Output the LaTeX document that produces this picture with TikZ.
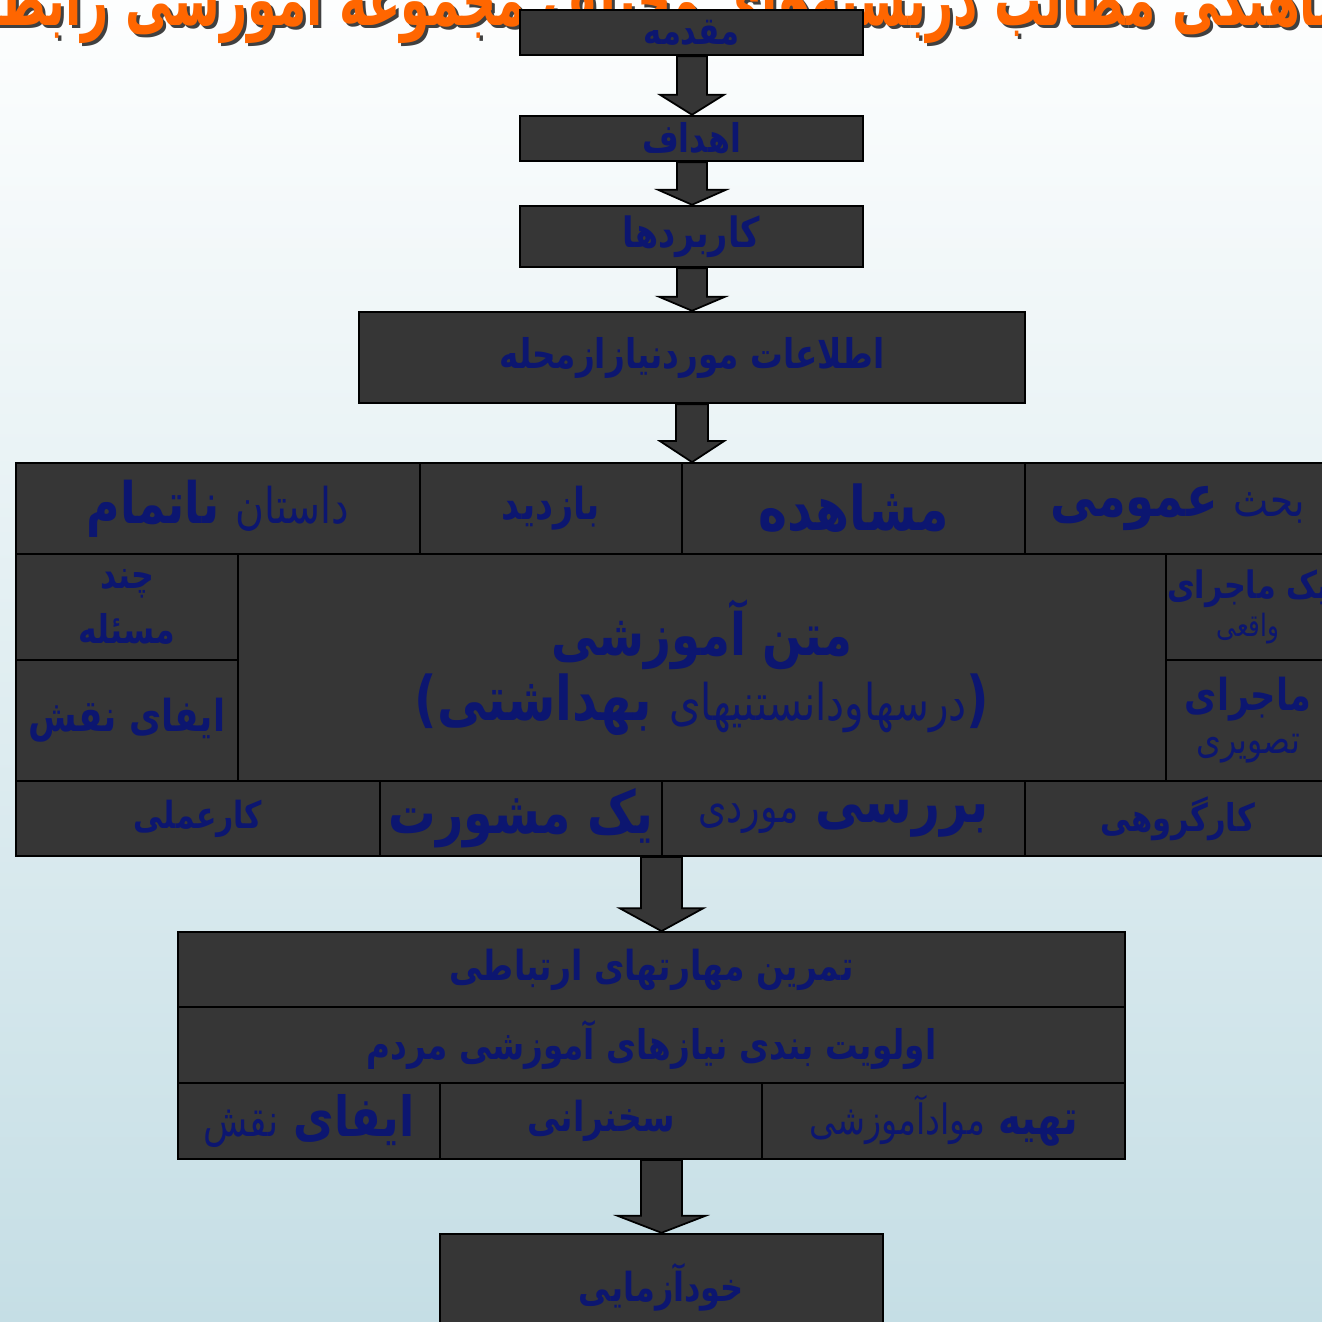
\documentclass[tikz,border=0pt]{standalone}
\usepackage{fontspec}
\usepackage{graphicx}
\usetikzlibrary{calc}
\TeXXeTstate=1
\newfontfamily\farsi[Script=Arabic]{DejaVu Sans}
\definecolor{boxgrey}{RGB}{54,54,54}
\definecolor{navytext}{RGB}{12,22,112}
\definecolor{titleorange}{RGB}{255,102,0}
\definecolor{skytop}{RGB}{253,254,254}
\definecolor{skybottom}{RGB}{197,222,229}
\newcommand{\rtltext}[1]{\scalebox{1}[1.25]{\beginR #1\endR}}
\newcommand{\fsz}[2]{\fontsize{#1}{#2}\selectfont}
\tikzset{
    box/.style={draw=black, line width=0.7pt, fill=boxgrey, text=navytext,
        inner sep=0pt, align=center},
    cell/.style={box, line width=0.5pt},
    farsisize/.style 2 args={font=\farsi\bfseries\fontsize{#1}{#2}\selectfont},
    blockarrow/.style={draw=black, line width=0.5pt, fill=boxgrey}
}

\begin{document}
\begin{tikzpicture}[x=0.1mm, y=-0.1mm]
                        \useasboundingbox (0,0) rectangle (1322,1322);
                        \clip (0,0) rectangle (1322,1322);
                        \shade[top color=skytop, bottom color=skybottom] (0,0) rectangle (1322,1322);
                        % title, cut off at the top
                        \node[farsisize={13.5}{16}, text=black!75, anchor=base] (titleshadow) at (664,29)
                            {\scalebox{1}[1.25]{\rtltext{هماهنگی مطالب دربسته‌های مختلف مجموعه آموزشی رابطین}}};
                        \node[farsisize={13.5}{16}, text=titleorange, anchor=base] (title) at (661,26)
                            {\scalebox{1}[1.25]{\rtltext{هماهنگی مطالب دربسته‌های مختلف مجموعه آموزشی رابطین}}};
                        % chain at the top
                        \node[box, farsisize={8.7}{11}, minimum width=34.3mm, minimum height=4.5mm] (intro) at (691.5,32.5) {\rtltext{مقدمه}};
                        \node[box, farsisize={9}{11}, minimum width=34.3mm, minimum height=4.5mm] (goals) at (691.5,138.5) {\rtltext{اهداف}};
                        \node[box, farsisize={9.5}{12}, minimum width=34.3mm, minimum height=6.1mm] (uses) at (691.5,236.5) {\rtltext{کاربردها}};
                        \node[box, farsisize={9.3}{12}, minimum width=66.6mm, minimum height=9.1mm] (info) at (692,357.5) {\rtltext{اطلاعات موردنیازازمحله}};
                        % big table
                        \node[cell, farsisize={13}{15}, minimum width=40.4mm, minimum height=9.1mm] (story) at (218,508.5)
                            {\rtltext{{\mdseries\fsz{11.2}{13}داستان} ناتمام}};
                        \node[cell, farsisize={10}{12}, minimum width=26.2mm, minimum height=9.1mm] (visit) at (551,508.5) {\rtltext{بازدید}};
                        \node[cell, farsisize={14}{16}, minimum width=34.3mm, minimum height=9.1mm] (observe) at (853.5,508.5) {\rtltext{مشاهده}};
                        \node[cell, farsisize={13.2}{15}, minimum width=30.5mm, minimum height=9.1mm] (discuss) at (1177.5,508.5)
                            {\rtltext{{\mdseries\fsz{10.6}{13}بحث} عمومی}};
                        \node[cell, farsisize={9}{15.4}, minimum width=22.2mm, minimum height=10.6mm] (problem) at (127,607)
                            {\rtltext{چند}\\\rtltext{مسئله}};
                        \node[cell, farsisize={10}{12}, minimum width=22.2mm, minimum height=12.1mm] (roleplay) at (127,720.5) {\rtltext{ایفای نقش}};
                        \node[cell, farsisize={14}{15.4}, minimum width=92.8mm, minimum height=22.7mm] (lesson) at (702,667.5)
                            {\rtltext{\fsz{13.3}{15.4}متن آموزشی}\\\rtltext{({\mdseries\fsz{11.5}{14}درسهاودانستنیهای} بهداشتی)}};
                        \node[cell, farsisize={8.6}{11}, minimum width=16.4mm, minimum height=10.6mm] (realcase) at (1248,607)
                            {\rtltext{یک ماجرای}\\\rtltext{{\mdseries\fsz{7}{9}واقعی}}};
                        \node[cell, farsisize={10}{12.2}, minimum width=16.4mm, minimum height=12.1mm] (pictcase) at (1248,720.5)
                            {\rtltext{ماجرای}\\\rtltext{{\mdseries\fsz{9}{11}تصویری}}};
                        \node[cell, farsisize={8.5}{11}, minimum width=36.4mm, minimum height=7.5mm] (practice) at (198,818.5) {\rtltext{کارعملی}};
                        \node[cell, farsisize={13.5}{15}, minimum width=28.2mm, minimum height=7.5mm] (consult) at (521,818.5) {\rtltext{یک مشورت}};
                        \node[cell, farsisize={13.8}{15}, minimum width=36.3mm, minimum height=7.5mm] (casestudy) at (843.5,818.5)
                            {\rtltext{بررسی {\mdseries\fsz{10.3}{12}موردی}}};
                        \node[cell, farsisize={8.7}{11}, minimum width=30.5mm, minimum height=7.5mm] (groupwork) at (1177.5,818.5) {\rtltext{کارگروهی}};
                        % lower table
                        \node[cell, farsisize={9.4}{12}, minimum width=94.7mm, minimum height=7.5mm] (commskills) at (651.5,969.5) {\rtltext{تمرین مهارتهای ارتباطی}};
                        \node[cell, farsisize={9.3}{12}, minimum width=94.7mm, minimum height=7.6mm] (priority) at (651.5,1045) {\rtltext{اولویت بندی نیازهای آموزشی مردم}};
                        \node[cell, farsisize={12.6}{15}, minimum width=26.2mm, minimum height=7.6mm] (roleplaytwo) at (309,1121)
                            {\rtltext{ایفای {\mdseries\fsz{10.3}{12}نقش}}};
                        \node[cell, farsisize={9.4}{12}, minimum width=32.2mm, minimum height=7.6mm] (lecture) at (601,1121) {\rtltext{سخنرانی}};
                        \node[cell, farsisize={11}{13}, minimum width=36.3mm, minimum height=7.6mm] (materials) at (943.5,1121)
                            {\rtltext{تهیه {\mdseries\fsz{9.5}{12}موادآموزشی}}};
                        \node[box, farsisize={9.1}{12}, minimum width=44.3mm, minimum height=10.6mm] (selftest) at (661.5,1287) {\rtltext{خودآزمایی}};
                        % block arrows: source/target/axis/half shaft/half head/head length
                        \foreach \src/\dst/\ax/\hs/\hh/\hl in {intro/goals/692/15/32/20, goals/uses/692/15/34/15,
                                uses/info/692/15/33/14, info/observe/692/16/32/21,
                                consult/commskills/661.5/20.5/42/23, lecture/selftest/661.5/20.5/44/17}
                            \filldraw[blockarrow]
                            ($(\src.south -| \ax,0)+(-\hs,0)$) -- ($(\src.south -| \ax,0)+(\hs,0)$)
                            -- ($(\dst.north -| \ax,0)+(\hs,-\hl)$) -- ($(\dst.north -| \ax,0)+(\hh,-\hl)$)
                            -- (\dst.north -| \ax,0)
                            -- ($(\dst.north -| \ax,0)+(-\hh,-\hl)$) -- ($(\dst.north -| \ax,0)+(-\hs,-\hl)$) -- cycle;
                    \end{tikzpicture}
\end{document}
